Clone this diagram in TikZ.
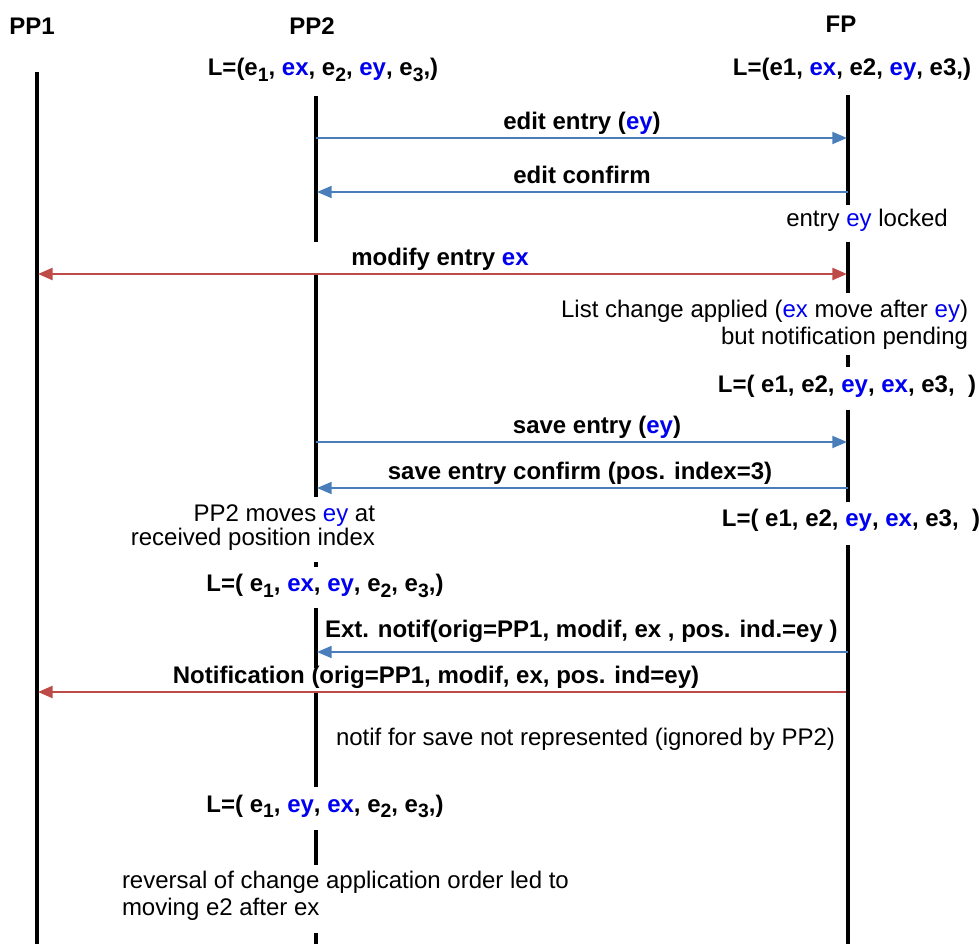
\documentclass[tikz,border=0pt]{standalone}
\usepackage{fontspec}
\setmainfont{Liberation Sans}
\usetikzlibrary{arrows.meta}
\definecolor{arrblue}{HTML}{4A7EBB}
\definecolor{arrred}{HTML}{BE4B48}
\definecolor{txtblue}{HTML}{0000F0}
\newcommand{\bx}[1]{\textcolor{txtblue}{#1}}
\newcommand{\sbx}[1]{\raisebox{-0.22em}{\fontsize{14.5}{14.5}\selectfont #1}}
\begin{document}
\begin{tikzpicture}[x=0.75pt,y=-0.75pt,
  every node/.style={inner sep=0pt, outer sep=0pt, font=\fontsize{18}{20.5}\selectfont},
  lbl/.style={font=\fontsize{18}{20.5}\selectfont\bfseries},
  txt/.style={font=\fontsize{18}{20.5}\selectfont},
  life/.style={line width=2.5pt, black},
  bmsg/.style={line width=1.4pt, arrblue, -{Triangle[length=11pt,width=9pt]}},
  rmsg/.style={line width=1.8pt, arrred, {Triangle[length=11pt,width=9pt]}-{Triangle[length=11pt,width=9pt]}},
  rthin/.style={line width=0.8pt, arrred},
  rthick/.style={line width=1.8pt, arrred},
  rhead/.style={line width=1.8pt, arrred, -{Triangle[length=11pt,width=9pt]}}
]
\useasboundingbox (0,0) rectangle (979,944);

% titles
\node[lbl] (tpp1) at (32,26) {PP1};
\node[lbl] (tpp2) at (312,26) {PP2};
\node[lbl] (tfp) at (841,24) {FP};

% initial lists
\node[lbl, anchor=base] (lpp2a) at (323,76) {L=(e\sbx{1}, \bx{ex}, e\sbx{2}, \bx{ey}, e\sbx{3},)};
\node[lbl, anchor=base] (lfpa) at (852,76) {L=(e1, \bx{ex}, e2, \bx{ey}, e3,)};

% lifelines
\coordinate (pp1top) at (37,72); \coordinate (pp1bot) at (37,944);
\draw[life] (pp1top) -- (pp1bot);

\coordinate (p2s1) at (316,96);  \coordinate (p2e1) at (316,242);
\coordinate (p2s2) at (316,273); \coordinate (p2e2) at (316,497);
\coordinate (p2s3) at (316,562); \coordinate (p2e3) at (316,567);
\coordinate (p2s4) at (316,608); \coordinate (p2e4) at (316,668);
\coordinate (p2s5) at (316,693); \coordinate (p2e5) at (316,787);
\coordinate (p2s6) at (316,830); \coordinate (p2e6) at (316,865);
\coordinate (p2s7) at (316,933); \coordinate (p2e7) at (316,944);
\foreach \i in {1,...,7} { \draw[life] (p2s\i) -- (p2e\i); }

\coordinate (fs1) at (848,95);  \coordinate (fe1) at (848,205);
\coordinate (fs2) at (848,242); \coordinate (fe2) at (848,293);
\coordinate (fs3) at (848,355); \coordinate (fe3) at (848,367);
\coordinate (fs4) at (848,410); \coordinate (fe4) at (848,502);
\coordinate (fs5) at (848,545); \coordinate (fe5) at (848,944);
\foreach \i in {1,...,5} { \draw[life] (fs\i) -- (fe\i); }

% edit entry
\coordinate (m1a) at (316,138); \coordinate (m1b) at (847,138);
\draw[bmsg] (m1a) -- (m1b);
\node[lbl, anchor=base] (l1) at (582,130) {edit entry (\bx{ey})};

% edit confirm
\coordinate (m2a) at (848,192); \coordinate (m2b) at (317,192);
\draw[bmsg] (m2a) -- (m2b);
\node[lbl, anchor=base] (l2) at (582,184) {edit confirm};

\node[txt, anchor=base] (n1) at (867,227) {entry \bx{ey} locked};

% modify entry
\coordinate (m3a) at (38,274); \coordinate (m3b) at (847,274);
\draw[rmsg] (m3a) -- (m3b);
\node[lbl, anchor=base] (l3) at (440,266) {modify entry \bx{ex}};

\node[txt, anchor=base east] (n2) at (968,318) {List change applied (\bx{ex} move after \bx{ey})};
\node[txt, anchor=base east] (n3) at (968,345) {but notification pending};

\node[lbl, anchor=base] (lfpb) at (847,393) {L=( e1, e2, \bx{ey}, \bx{ex}, e3,\ \ )};

% save entry
\coordinate (m4a) at (316,442); \coordinate (m4b) at (847,442);
\draw[bmsg] (m4a) -- (m4b);
\node[lbl, anchor=base] (l4) at (597,434) {save entry (\bx{ey})};

% save entry confirm
\coordinate (m5a) at (848,488); \coordinate (m5b) at (317,488);
\draw[bmsg] (m5a) -- (m5b);
\node[lbl, anchor=base] (l5) at (580,480) {save entry confirm (pos. index=3)};

\node[txt, anchor=base east] (n4) at (375,522) {PP2 moves \bx{ey} at};
\node[txt, anchor=base east] (n5) at (375,546) {received position index};

\node[lbl, anchor=base] (lfpc) at (851,527) {L=( e1, e2, \bx{ey}, \bx{ex}, e3,\ \ )};

\node[lbl, anchor=base] (lpp2b) at (325,592) {L=( e\sbx{1}, \bx{ex}, \bx{ey}, e\sbx{2}, e\sbx{3},)};

% ext notif
\coordinate (m6a) at (848,652); \coordinate (m6b) at (317,652);
\draw[bmsg] (m6a) -- (m6b);
\node[lbl, anchor=base west] (l6) at (325,638) {Ext. notif(orig=PP1, modif, ex , pos. ind.=ey )};

% notification
\coordinate (m7a) at (846,692); \coordinate (m7m) at (795,692);
\coordinate (m7n) at (78,692); \coordinate (m7b) at (38,692);
\draw[rthin] (m7a) -- (m7n);
\draw[rthick] (m7a) -- (m7m);
\draw[rhead] (m7n) -- (m7b);
\node[lbl, anchor=base] (l7) at (436,684) {Notification (orig=PP1, modif, ex, pos. ind=ey)};

\node[txt, anchor=base west] (n6) at (336,746) {notif for save not represented (ignored by PP2)};

\node[lbl, anchor=base] (lpp2c) at (325,812) {L=( e\sbx{1}, \bx{ey}, \bx{ex}, e\sbx{2}, e\sbx{3},)};

\node[txt, anchor=base west] (n7) at (122,888) {reversal of change application order led to};
\node[txt, anchor=base west] (n8) at (122,915) {moving e2 after ex};
\end{tikzpicture}
\end{document}
